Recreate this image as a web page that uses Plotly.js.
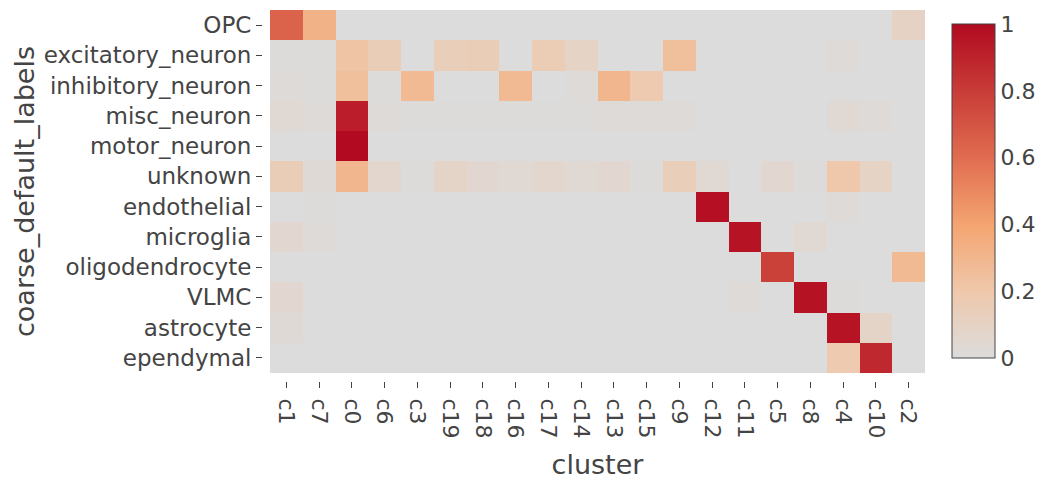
<!DOCTYPE html>
<html>
<head>
<meta charset="utf-8">
<script src="https://cdn.plot.ly/plotly-3.0.1.min.js"></script>
<style>html,body{margin:0;padding:0;background:#fff;}#chart{width:1046px;height:485px;}</style>
</head>
<body>
<div id="chart"></div>
<script>
const clusters = ['c1','c7','c0','c6','c3','c19','c18','c16','c17','c14','c13','c15','c9','c12','c11','c5','c8','c4','c10','c2'];
const labels = ['OPC','excitatory_neuron','inhibitory_neuron','misc_neuron','motor_neuron','unknown','endothelial','microglia','oligodendrocyte','VLMC','astrocyte','ependymal'];

const OPC               = [0.64,0.32,0,0,0,0,0,0,0,0,0,0,0,0,0,0,0,0,0,0.10];
const excitatory_neuron = [0.01,0.01,0.22,0.15,0,0.14,0.15,0,0.16,0.09,0,0,0.25,0,0,0,0,0.02,0,0];
const inhibitory_neuron = [0.02,0.01,0.25,0.01,0.28,0,0,0.28,0,0.02,0.30,0.18,0,0,0,0,0,0,0,0];
const misc_neuron       = [0.04,0.02,0.92,0.02,0.01,0.01,0.01,0.01,0.01,0.01,0.02,0.02,0.02,0,0,0,0,0.04,0.02,0];
const motor_neuron      = [0,0,1.0,0,0,0,0,0,0,0,0,0,0,0,0,0,0,0,0,0];
const unknown           = [0.15,0.03,0.30,0.06,0.01,0.08,0.05,0.04,0.06,0.04,0.05,0.01,0.14,0.04,0,0.05,0.01,0.20,0.09,0];
const endothelial       = [0,0.01,0,0,0,0,0,0,0,0,0,0,0,0.98,0,0,0,0.02,0,0];
const microglia         = [0.05,0.02,0,0,0,0,0,0,0,0,0,0,0,0,0.96,0,0.04,0,0,0];
const oligodendrocyte   = [0,0,0,0,0,0,0,0,0,0,0,0,0,0,0,0.78,0,0,0,0.28];
const VLMC              = [0.05,0,0,0,0,0,0,0,0,0,0,0,0,0,0.02,0,0.97,0.01,0,0];
const astrocyte         = [0.03,0,0,0,0,0,0,0,0,0,0,0,0,0,0,0,0,0.96,0.08,0];
const ependymal         = [0,0,0,0,0,0,0,0,0,0,0,0,0,0,0,0,0,0.18,0.88,0];

const z = [OPC,excitatory_neuron,inhibitory_neuron,misc_neuron,motor_neuron,unknown,endothelial,microglia,oligodendrocyte,VLMC,astrocyte,ependymal];

const font = {family:'DejaVu Sans, Verdana, sans-serif', color:'#444'};

const trace = {
  type:'heatmap',
  x: clusters, y: labels, z: z,
  zmin:0, zmax:1,
  colorscale:[[0,'#dcdcdc'],[0.2,'#efc8ab'],[0.4,'#f4a470'],[0.6,'#e06c50'],[0.8,'#c83c38'],[1,'#b20a20']],
  colorbar:{
    x:1.0407, xanchor:'left', xpad:0, ypad:0,
    y:0.512, yanchor:'middle',
    len:334, lenmode:'pixels', thickness:43,
    outlinewidth:1, outlinecolor:'#444',
    ticks:'', tick0:0, dtick:0.2,
    tickfont:{family:font.family, size:22, color:'#444'}
  }
};

const layout = {
  width:1046, height:485,
  margin:{l:262, r:121, t:10, b:104},
  paper_bgcolor:'#fff', plot_bgcolor:'#fff',
  font: font,
  xaxis:{
    domain:[0.01207,1], anchor:'free', position:0,
    tickangle:90, ticks:'outside', ticklen:6, tickcolor:'#444',
    ticklabelstandoff:6,
    tickfont:{size:22}, showgrid:false, zeroline:false, showline:false,
    title:{text:'cluster', font:{size:27}, standoff:17}
  },
  yaxis:{
    domain:[0.02156,1], anchor:'free', position:0,
    autorange:'reversed', ticks:'outside', ticklen:6, tickcolor:'#444',
    tickfont:{size:23}, showgrid:false, zeroline:false, showline:false,
    title:{text:'coarse_default_labels', font:{size:27}, standoff:0}
  }
};

Plotly.newPlot('chart',[trace],layout,{displayModeBar:false,staticPlot:true});
</script>
</body>
</html>
